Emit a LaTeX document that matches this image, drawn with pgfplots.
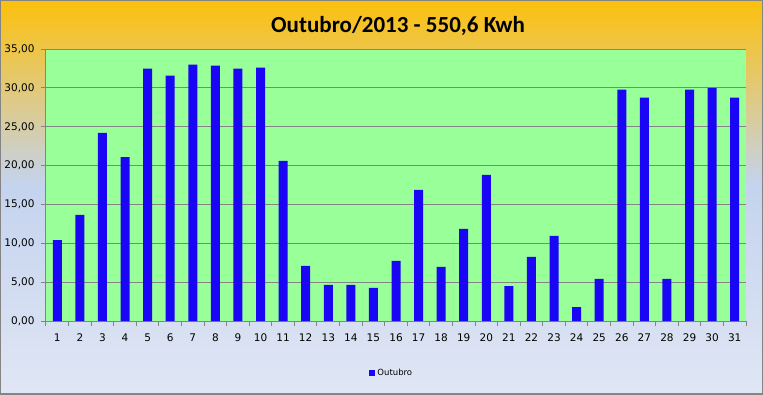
\documentclass[border=0pt]{standalone}
\usepackage{fontspec}
\setmainfont{DejaVu Sans}
\newfontfamily\titlefont{Carlito}
\usepackage{pgfplots}
\pgfplotsset{compat=1.18}
\definecolor{bgtop}{HTML}{FCC00C}
\definecolor{bgmid}{HTML}{C4D3EE}
\definecolor{bgbot}{HTML}{E0E6F4}
\definecolor{plotgreen}{HTML}{99FF99}
\definecolor{barblue}{HTML}{1A06F5}
\definecolor{gridgray}{HTML}{848484}
\begin{document}
\begin{tikzpicture}[x=1pt,y=1pt]
\useasboundingbox (0,0) rectangle (763,394);
\fill[top color=bgtop, bottom color=bgmid] (0,209) rectangle (763,394);
\fill[top color=bgmid, bottom color=bgbot] (0,0) rectangle (763,209.5);
\draw[gridgray, line width=1.5pt] (0,0) rectangle (763,394);
\node[font=\titlefont\bfseries\fontsize{23}{26}\selectfont, anchor=center] at (398,368) {Outubro/2013 - 550,6 Kwh};
\begin{axis}[
  at={(46pt,73pt)}, anchor=south west,
  scale only axis, width=700pt, height=272pt,
  xmin=0.5, xmax=31.5, ymin=0, ymax=35,
  axis x line*=bottom, axis y line*=left,
  axis line style={gridgray, line width=1pt},
  axis background/.style={fill=plotgreen},
  ytick={0,5,...,35},
  ymajorgrids, grid style={gridgray, line width=1pt},
  xtick={0.5,1.5,...,31.5}, xticklabels={},
  extra x ticks={1,2,...,31},
  extra x tick style={tick style={draw=none}, grid=none},
  tick align=outside, major tick length=5pt,
  tick style={gridgray, line width=1pt},
  /pgf/number format/assume math mode=true,
  yticklabel style={xshift=-3pt, /pgf/number format/.cd, fixed, fixed zerofill, precision=2, use comma},
  xticklabel style={yshift=-4pt},
  tick label style={font=\fontsize{10.5}{12}\selectfont, text=black},
  ybar, bar width=9pt,
  legend style={at={(0.494,-0.191)}, anchor=center, draw=none, fill=none, font=\fontsize{8.5}{10}\selectfont},
  legend image code/.code={\fill[barblue] (0pt,-3pt) rectangle (6pt,3pt);},
]
\addplot[fill=barblue, draw=none] coordinates {
(1,10.4) (2,13.65) (3,24.2) (4,21.1) (5,32.46) (6,31.56) (7,32.98) (8,32.85) (9,32.46) (10,32.6)
(11,20.6) (12,7.08) (13,4.64) (14,4.64) (15,4.25) (16,7.73) (17,16.87) (18,6.96) (19,11.85) (20,18.8)
(21,4.5) (22,8.24) (23,10.95) (24,1.8) (25,5.41) (26,29.76) (27,28.73) (28,5.41) (29,29.76) (30,30.01) (31,28.73)
};
\addlegendentry{Outubro}
\end{axis}
\end{tikzpicture}
\end{document}
